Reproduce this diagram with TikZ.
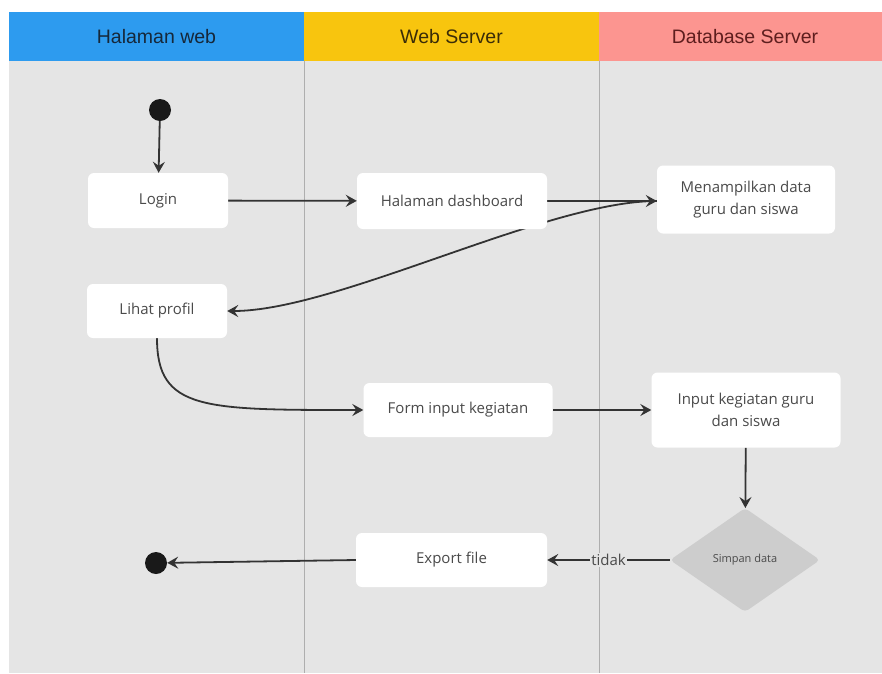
\documentclass[tikz,border=0pt]{standalone}
\usepackage{fontspec}
\setmainfont{Open Sans}
\newfontfamily\hdrfont{Liberation Sans}
\usetikzlibrary{shapes.geometric,arrows.meta}
\definecolor{lanebg}{HTML}{E5E5E5}
\definecolor{laneline}{HTML}{AEAEAE}
\definecolor{hblue}{HTML}{2D9BEF}
\definecolor{hyellow}{HTML}{F8C50E}
\definecolor{hpink}{HTML}{FC9590}
\definecolor{tblue}{HTML}{16283A}
\definecolor{tyellow}{HTML}{3A2C08}
\definecolor{tpink}{HTML}{5E1E1E}
\definecolor{boxtext}{HTML}{4A4A4A}
\definecolor{arrowc}{HTML}{333333}
\definecolor{diafill}{HTML}{CDCDCD}
\pgfdeclarelayer{background}
\pgfdeclarelayer{edges}
\pgfsetlayers{background,edges,main}
\tikzset{
  actbox/.style={rectangle, fill=white, rounded corners=6pt, text=boxtext,
    font=\fontsize{15}{21.5}\selectfont, align=center, inner sep=0pt},
  hdrtext/.style={font=\hdrfont\fontsize{19.5}{22}\selectfont},
  dot/.style={circle, fill=black!90, minimum size=22pt, inner sep=0pt},
  arr/.style={draw=arrowc, line width=1.8pt, -{Stealth[length=11pt,width=12pt,inset=4pt]}},
  decision/.style={diamond, fill=diafill, text=boxtext, inner sep=0pt,
    minimum width=150pt, minimum height=104pt, rounded corners=4pt,
    font=\fontsize{11}{13}\selectfont},
  edgelabel/.style={fill=lanebg, text=boxtext, inner sep=1.5pt,
    font=\fontsize{15}{17}\selectfont}
}
\begin{document}
\begin{tikzpicture}[x=1pt,y=-1pt]
\useasboundingbox (0,0) rectangle (882,673);
\begin{pgfonlayer}{background}
  \fill[white] (0,0) rectangle (882,673);
  \fill[lanebg] (9,61) rectangle (882,673);
  \fill[hblue] (9,12) rectangle (304,61);
  \fill[hyellow] (304,12) rectangle (599,61);
  \fill[hpink] (599,12) rectangle (882,61);
  \draw[laneline, line width=1pt] (304,61) -- (304,673);
  \draw[laneline, line width=1pt] (599,61) -- (599,673);
\end{pgfonlayer}
\node[hdrtext, text=tblue] (h1) at (156.5,37) {Halaman web};
\node[hdrtext, text=tyellow] (h2) at (451.5,37) {Web Server};
\node[hdrtext, text=tpink] (h3) at (745,37) {Database Server};

\node[dot] (start) at (160,110) {};
\node[actbox, minimum width=140pt, minimum height=55pt] (login) at (158,200.5) {Login};
\node[actbox, minimum width=190pt, minimum height=56pt] (dash) at (452,201) {Halaman dashboard};
\node[actbox, minimum width=178pt, minimum height=68pt] (tampil) at (746,199.5) {Menampilkan data\\guru dan siswa};
\node[actbox, minimum width=140pt, minimum height=54pt] (lihat) at (157,311) {Lihat profil};
\node[actbox, minimum width=189pt, minimum height=54pt] (form) at (458,410) {Form input kegiatan};
\node[actbox, minimum width=189pt, minimum height=75pt] (input) at (746,410) {Input kegiatan guru\\dan siswa};
\node[decision] (simpan) at (745,560) {Simpan data};
\node[actbox, minimum width=191pt, minimum height=54pt] (export) at (451.5,560) {Export file};
\node[dot] (end) at (156,563) {};

\begin{pgfonlayer}{edges}
  \draw[arr] (start) -- (login);
  \draw[arr] (login) -- (dash);
  \draw[arr] (dash.east) -- (dash.east -| tampil.west);
  \draw[arr] (dash.east -| tampil.west) .. controls +(-110,0) and +(110,0) .. (lihat.east);
  \draw[arr] (lihat.south) .. controls +(0,72) and +(-160,0) .. (form.west);
  \draw[arr] (form) -- (input);
  \draw[arr] (input) -- (simpan);
  \draw[arr] (simpan.west) -- node[edgelabel] (tidak) {tidak} (export.east);
  \draw[arr] (export.west) -- (end);
\end{pgfonlayer}
\end{tikzpicture}
\end{document}
